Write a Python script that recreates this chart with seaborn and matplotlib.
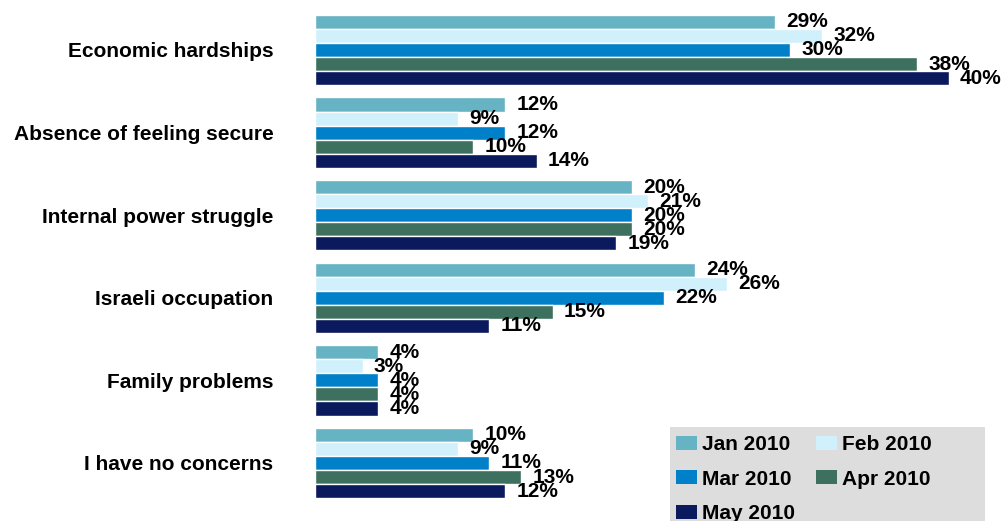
import pandas as pd
import matplotlib.pyplot as plt
import seaborn as sns
from matplotlib.patches import Rectangle

# données
categories = ["Economic hardships", "Absence of feeling secure", "Internal power struggle",
              "Israeli occupation", "Family problems", "I have no concerns"]
months = ["Jan 2010", "Feb 2010", "Mar 2010", "Apr 2010", "May 2010"]
jan = [29, 12, 20, 24, 4, 10]
feb = [32, 9, 21, 26, 3, 9]
mar = [30, 12, 20, 22, 4, 11]
apr = [38, 10, 20, 15, 4, 13]
may = [40, 14, 19, 11, 4, 12]
colors = ["#66B3C3", "#D0F0FC", "#0080C8", "#3D705E", "#0B1A5C"]

rows = []
for m, vals in zip(months, [jan, feb, mar, apr, may]):
    for c, v in zip(categories, vals):
        rows.append({"Category": c, "Month": m, "Value": v})
df = pd.DataFrame(rows)

sns.set_style("white")
plt.rcParams["font.family"] = ["Liberation Sans", "DejaVu Sans"]
plt.rcParams["font.weight"] = "bold"
plt.rcParams["text.color"] = "black"

W, H = 1004, 521
fig = plt.figure(figsize=(W / 100, H / 100), dpi=100)
ax = fig.add_axes([315 / W, 0, (W - 315) / W, 1])

sns.barplot(data=df, y="Category", x="Value", hue="Month", orient="h",
            palette=colors, width=0.85, saturation=1, ax=ax, legend=False)

for cont, vals in zip(ax.containers, [jan, feb, mar, apr, may]):
    ax.bar_label(cont, labels=[f"{v}%" for v in vals], padding=8,
                 fontsize=15, fontweight="bold", color="black")

ax.set_xlim(0, (W - 315) / 15.85)
ax.set_ylim(5 + (H - 463) / 82.6, -50 / 82.6)
ax.set_xlabel("")
ax.set_ylabel("")
ax.set_xticks([])
ax.tick_params(axis="y", length=0, pad=30, labelsize=15, labelcolor="black")
for t in ax.get_yticklabels():
    t.set_fontweight("bold")
sns.despine(ax=ax, left=True, bottom=True, top=True, right=True)

# légende sur fond gris
fig.patches.append(Rectangle((670 / W, 0), 315 / W, 1 - 427 / H,
                             transform=fig.transFigure, facecolor="#DDDDDD",
                             edgecolor="none", zorder=0))
handles = [Rectangle((0, 0), 1, 1, facecolor=c, edgecolor="none") for c in colors]
order = [0, 2, 4, 1, 3]  # remplissage par ligne
fig.legend([handles[i] for i in order], [months[i] for i in order],
           loc="upper left", bbox_to_anchor=(676 / W, 1 - 435 / H),
           ncol=2, frameon=False, prop={"weight": "bold", "size": 15},
           handlelength=1.0, handleheight=0.65, handletextpad=0.25,
           columnspacing=1.0, labelspacing=0.75, borderpad=0, borderaxespad=0)

plt.savefig("out.png", dpi=100)
